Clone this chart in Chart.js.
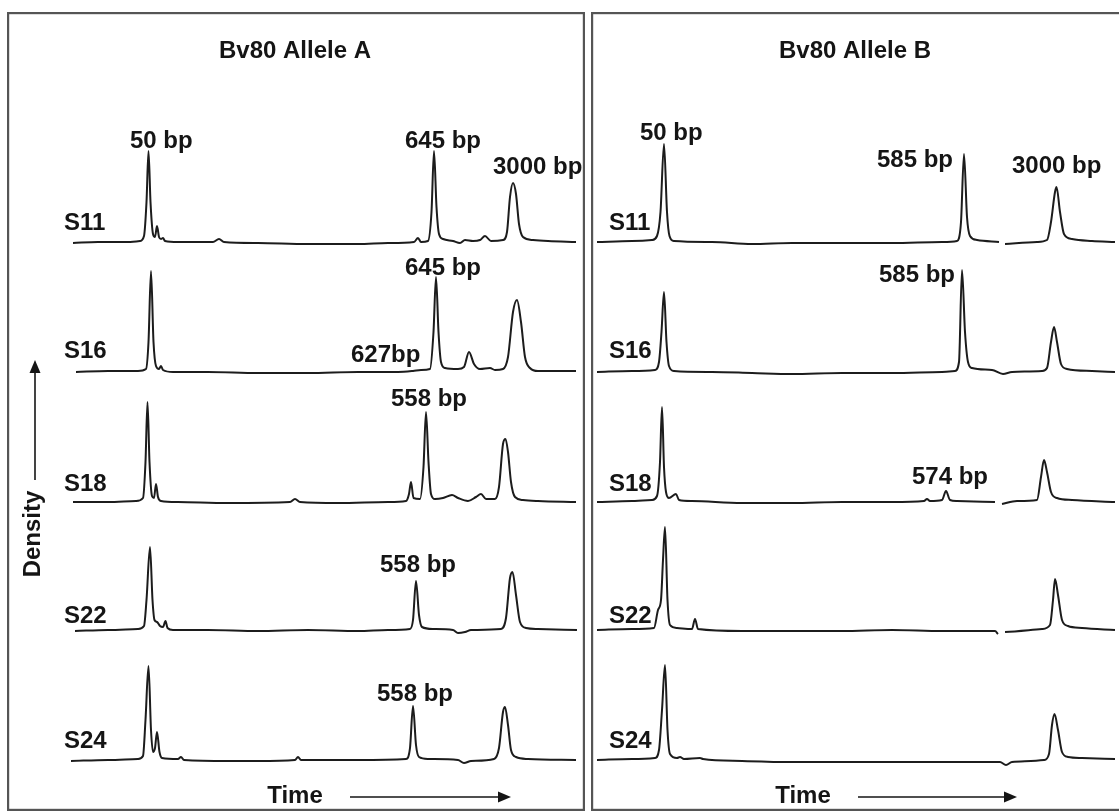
<!DOCTYPE html>
<html>
<head>
<meta charset="utf-8">
<script src="https://cdn.jsdelivr.net/npm/chart.js@4.4.0/dist/chart.umd.min.js"></script>
<style>
  html, body { margin: 0; padding: 0; background: #fff; }
  body { width: 1119px; height: 812px; position: relative; overflow: hidden; }
  canvas { position: absolute; }
  #chart-a { left: 7px; top: 12px; }
  #chart-b { left: 591px; top: 12px; }
</style>
</head>
<body>
<canvas id="chart-a" width="578" height="799"></canvas>
<canvas id="chart-b" width="528" height="799"></canvas>
<script>
// Muestras y desplazamiento vertical de cada carril (unidades de densidad)
const samples = ['S11', 'S16', 'S18', 'S22', 'S24'];
const laneOffsets = [518, 388, 258, 130, 0];

// Electroferogramas Bv80 alelo A: [tiempo, densidad]
const alleleA_S11 = [[6.5,-1],[9,0],[12,0],[13.2,1],[13.6,6],[13.85,40],[14.05,91],[14.25,40],[14.5,8],[14.7,5],[14.9,16],[15.1,5],[15.3,3],[15.5,4],[15.7,1],[17,0],[20.5,0],[21.1,3],[21.6,0],[25,-1],[30,-2],[35,-2],[38,-1],[40.6,0],[41,4],[41.3,0],[42,1],[42.35,30],[42.6,91],[42.85,35],[43.1,8],[43.5,3],[44.5,1],[45.2,-1],[45.7,2],[46.5,1],[47.2,2],[47.7,6],[48.3,1],[49.5,2],[49.9,10],[50.2,45],[50.5,59],[50.8,48],[51.1,18],[51.5,5],[52.5,2],[54,1],[56.8,0]];
const alleleA_S16 = [[6.8,0],[10,1],[13,1],[13.8,3],[14.05,30],[14.3,101],[14.55,30],[14.8,6],[15.1,3],[15.3,6],[15.5,2],[16.5,0],[20,0],[25,-1],[30,-1],[35,0],[39,0],[40.5,1],[41.3,2],[42.2,3],[42.55,40],[42.8,95],[43.05,40],[43.3,10],[43.7,4],[45,3],[45.6,5],[46.1,20],[46.6,8],[47.2,3],[48.2,4],[48.7,2],[49.5,3],[50,15],[50.5,60],[50.9,72],[51.3,50],[51.7,15],[52.2,4],[53,1],[56.8,1]];
const alleleA_S18 = [[6.5,0],[10,0],[12.8,1],[13.5,4],[13.75,40],[13.95,100],[14.15,40],[14.4,6],[14.6,4],[14.8,18],[15,5],[15.3,1],[17,0],[22,-1],[28.2,0],[28.7,3],[29.2,0],[33,-1],[38,0],[39.8,1],[40.1,8],[40.3,20],[40.55,4],[41.2,3],[41.55,35],[41.8,90],[42.05,40],[42.3,8],[42.7,3],[43.5,4],[44.4,7],[45,4],[46,1],[46.8,5],[47.3,8],[47.8,3],[48.7,3],[49.1,15],[49.5,58],[49.75,63],[50,50],[50.3,20],[50.7,5],[51.5,2],[53,1],[56.8,0]];
const alleleA_S22 = [[6.7,-1],[10,0],[13,1],[13.6,4],[13.85,30],[14.2,83],[14.45,30],[14.65,10],[14.9,8],[15.2,4],[15.5,3],[15.75,9],[15.95,2],[16.5,0],[20,0],[25,-1],[30,0],[35,-1],[38,0],[40.2,1],[40.5,10],[40.8,49],[41.1,15],[41.4,3],[42.5,1],[44.5,0],[45,-3],[45.7,-2],[46.3,0],[49.3,1],[49.8,12],[50.2,52],[50.45,58],[50.8,35],[51.2,8],[51.8,2],[53,1],[56.9,0]];
const alleleA_S24 = [[6.3,-1],[10,0],[13,1],[13.5,4],[13.75,40],[14.05,94],[14.3,30],[14.5,8],[14.7,12],[14.9,28],[15.15,8],[15.4,2],[17,1],[17.3,3],[17.6,0],[22,-1],[25,-1],[28.7,0],[29,3],[29.3,0],[35,0],[39.8,1],[40.2,12],[40.5,54],[40.8,15],[41.1,3],[42,1],[45,0],[45.6,-3],[46.3,-1],[48.6,1],[49.1,12],[49.5,48],[49.7,53],[50,35],[50.3,10],[50.8,3],[52,1],[56.8,0]];

// Electroferogramas Bv80 alelo B (null = corte en la traza)
const alleleB_S11 = [[0.5,0],[4,1],[6,2],[6.5,6],[6.85,30],[7.2,98],[7.5,30],[7.75,6],[8.2,1],[12,0],[16,-2],[20,-1],[25,-1],[30,-1],[35,0],[36.5,1],[36.9,20],[37.2,88],[37.5,25],[37.8,6],[38.5,2],[40.7,0],[41,null],[41.3,-2],[44.5,0],[45.5,2],[45.9,20],[46.3,50],[46.45,55],[46.8,30],[47.2,8],[48,3],[50,1],[52.3,0]];
const alleleB_S16 = [[0.5,0],[4,1],[6.3,2],[6.7,10],[6.95,40],[7.2,80],[7.45,30],[7.7,6],[8.2,1],[12,0],[16,-1],[20,-2],[25,-1],[30,-1],[35,0],[36.3,1],[36.7,10],[37,102],[37.3,40],[37.6,10],[38,4],[40,2],[41.1,-2],[42,0],[45,1],[45.5,4],[45.9,30],[46.2,45],[46.5,30],[46.9,8],[47.5,3],[50,1],[52.3,0]];
const alleleB_S18 = [[0.5,0],[4,1],[6,2],[6.5,6],[6.8,40],[7,95],[7.2,35],[7.4,10],[7.7,4],[8.4,8],[8.7,2],[10,1],[15,-1],[20,-1],[25,0],[30,0],[33.2,1],[33.5,3],[33.8,1],[35,2],[35.4,11],[35.8,2],[36.5,1],[40.3,0],[40.6,null],[41,-2],[42.5,1],[44.5,2],[44.9,25],[45.2,42],[45.5,30],[45.9,10],[46.5,4],[48,2],[52.3,0]];
const alleleB_S22 = [[0.5,0],[4,1],[6.2,2],[6.6,20],[6.9,30],[7.1,70],[7.3,103],[7.55,30],[7.8,5],[8.5,2],[10,1],[10.3,11],[10.6,1],[15,-1],[20,-1],[25,-1],[30,0],[35,-1],[40.3,-1],[40.6,-4],[40.9,null],[41.3,-2],[45,1],[45.8,5],[46.1,30],[46.3,51],[46.6,35],[47,10],[47.6,4],[49,2],[52.3,0]];
const alleleB_S24 = [[0.5,0],[4,1],[6.3,2],[6.7,10],[7,50],[7.3,95],[7.55,30],[7.8,6],[8.5,2],[8.8,3],[9.2,1],[10.8,2],[11.1,1],[15,-1],[20,-2],[25,-2],[30,-2],[38,-2],[40.8,-2],[41.4,-5],[42,-2],[45.2,0],[45.7,6],[46,35],[46.25,46],[46.6,30],[47,8],[47.6,3],[49,2],[52.3,1]];

// Etiquetas de picos (texto) y su ubicación [tiempo, densidad]
const peakTextA = ['50 bp', '645 bp', '3000 bp', '645 bp', '627bp', '558 bp', '558 bp', '558 bp'];
const peakPosA = [[12.2, 612], [39.7, 612], [48.5, 586], [39.7, 485], [34.3, 398], [38.3, 354], [37.2, 188], [36.9, 59]];
const peakTextB = ['50 bp', '585 bp', '3000 bp', '585 bp', '574 bp'];
const peakPosB = [[4.8, 620], [28.5, 593], [42.0, 587], [28.7, 478], [32.0, 276]];
const sampleLabelV = [530, 402, 269, 137, 12];

const FONT = 'bold 24px "Liberation Sans", Arial, Helvetica, sans-serif';

function arrow(ctx, x1, y1, x2, y2) {
    const ang = Math.atan2(y2 - y1, x2 - x1);
    const L = 13, W = 5.5;
    ctx.beginPath();
    ctx.moveTo(x1, y1);
    ctx.lineTo(x2 - L * Math.cos(ang) * 0.8, y2 - L * Math.sin(ang) * 0.8);
    ctx.stroke();
    ctx.beginPath();
    ctx.moveTo(x2, y2);
    ctx.lineTo(x2 - L * Math.cos(ang) - W * Math.sin(ang), y2 - L * Math.sin(ang) + W * Math.cos(ang));
    ctx.lineTo(x2 - L * Math.cos(ang) + W * Math.sin(ang), y2 - L * Math.sin(ang) - W * Math.cos(ang));
    ctx.closePath();
    ctx.fill();
}

// Plugin para textos, flechas de ejes y marco del panel
const panelText = {
    id: 'panelText',
    afterDatasetsDraw(chart, args, o) {
        const { ctx, scales: { x, y } } = chart;
        const px = (t) => x.getPixelForValue(t);
        const py = (v) => y.getPixelForValue(v);
        ctx.save();
        ctx.fillStyle = '#151515';
        ctx.strokeStyle = '#151515';
        ctx.font = FONT;
        ctx.textAlign = 'left';
        ctx.textBaseline = 'alphabetic';
        o.peakText.forEach((txt, i) => ctx.fillText(txt, px(o.peakPos[i][0]), py(o.peakPos[i][1])));
        samples.forEach((s, i) => ctx.fillText(s, px(o.sampleT), py(sampleLabelV[i])));

        ctx.textAlign = 'center';
        ctx.fillText(o.title, px(o.titleT), py(702));
        ctx.fillText('Time', px(o.timeT), py(-43));
        ctx.lineWidth = 1.6;
        arrow(ctx, px(o.arrowT[0]), py(-37), px(o.arrowT[1]), py(-37));

        if (o.density) {
            ctx.save();
            ctx.translate(px(2.5), py(226));
            ctx.rotate(-Math.PI / 2);
            ctx.textBaseline = 'middle';
            ctx.fillText('Density', 0, 0);
            ctx.restore();
            arrow(ctx, px(2.7), py(280), px(2.7), py(400));
        }

        ctx.strokeStyle = '#555';
        ctx.lineWidth = 2.2;
        ctx.strokeRect(1.1, 1.1, chart.width - 2.2 + (o.openRight ? 20 : 0), chart.height - 2.2);
        ctx.restore();
    }
};

function crearPanel(id, traces, xMax, extra) {
    const ctx = document.getElementById(id).getContext('2d');
    return new Chart(ctx, {
        type: 'scatter',
        data: {
            datasets: traces.map((tr, i) => ({
                label: samples[i],
                data: tr.map(p => ({ x: p[0], y: p[1] === null ? null : p[1] + laneOffsets[i] })),
                showLine: true,
                borderColor: '#1c1c1c',
                borderWidth: 2,
                pointRadius: 0,
                cubicInterpolationMode: 'monotone',
                spanGaps: false
            }))
        },
        options: {
            responsive: false,
            animation: false,
            devicePixelRatio: 1,
            layout: { padding: 0 },
            plugins: {
                legend: { display: false },
                tooltip: { enabled: false },
                panelText: extra
            },
            scales: {
                x: { type: 'linear', display: false, min: -0.1, max: xMax },
                y: { type: 'linear', display: false, min: -51, max: 748 }
            }
        },
        plugins: [panelText]
    });
}

document.addEventListener('DOMContentLoaded', function() {
    crearPanel('chart-a', [alleleA_S11, alleleA_S16, alleleA_S18, alleleA_S22, alleleA_S24], 57.7, {
        title: 'Bv80 Allele A', titleT: 28.7, timeT: 28.7, arrowT: [34.2, 50.3],
        peakText: peakTextA, peakPos: peakPosA, sampleT: 5.6, density: true, openRight: false
    });
    crearPanel('chart-b', [alleleB_S11, alleleB_S16, alleleB_S18, alleleB_S22, alleleB_S24], 52.7, {
        title: 'Bv80 Allele B', titleT: 26.3, timeT: 21.1, arrowT: [26.6, 42.5],
        peakText: peakTextB, peakPos: peakPosB, sampleT: 1.7, density: false, openRight: true
    });
});
</script>
</body>
</html>
